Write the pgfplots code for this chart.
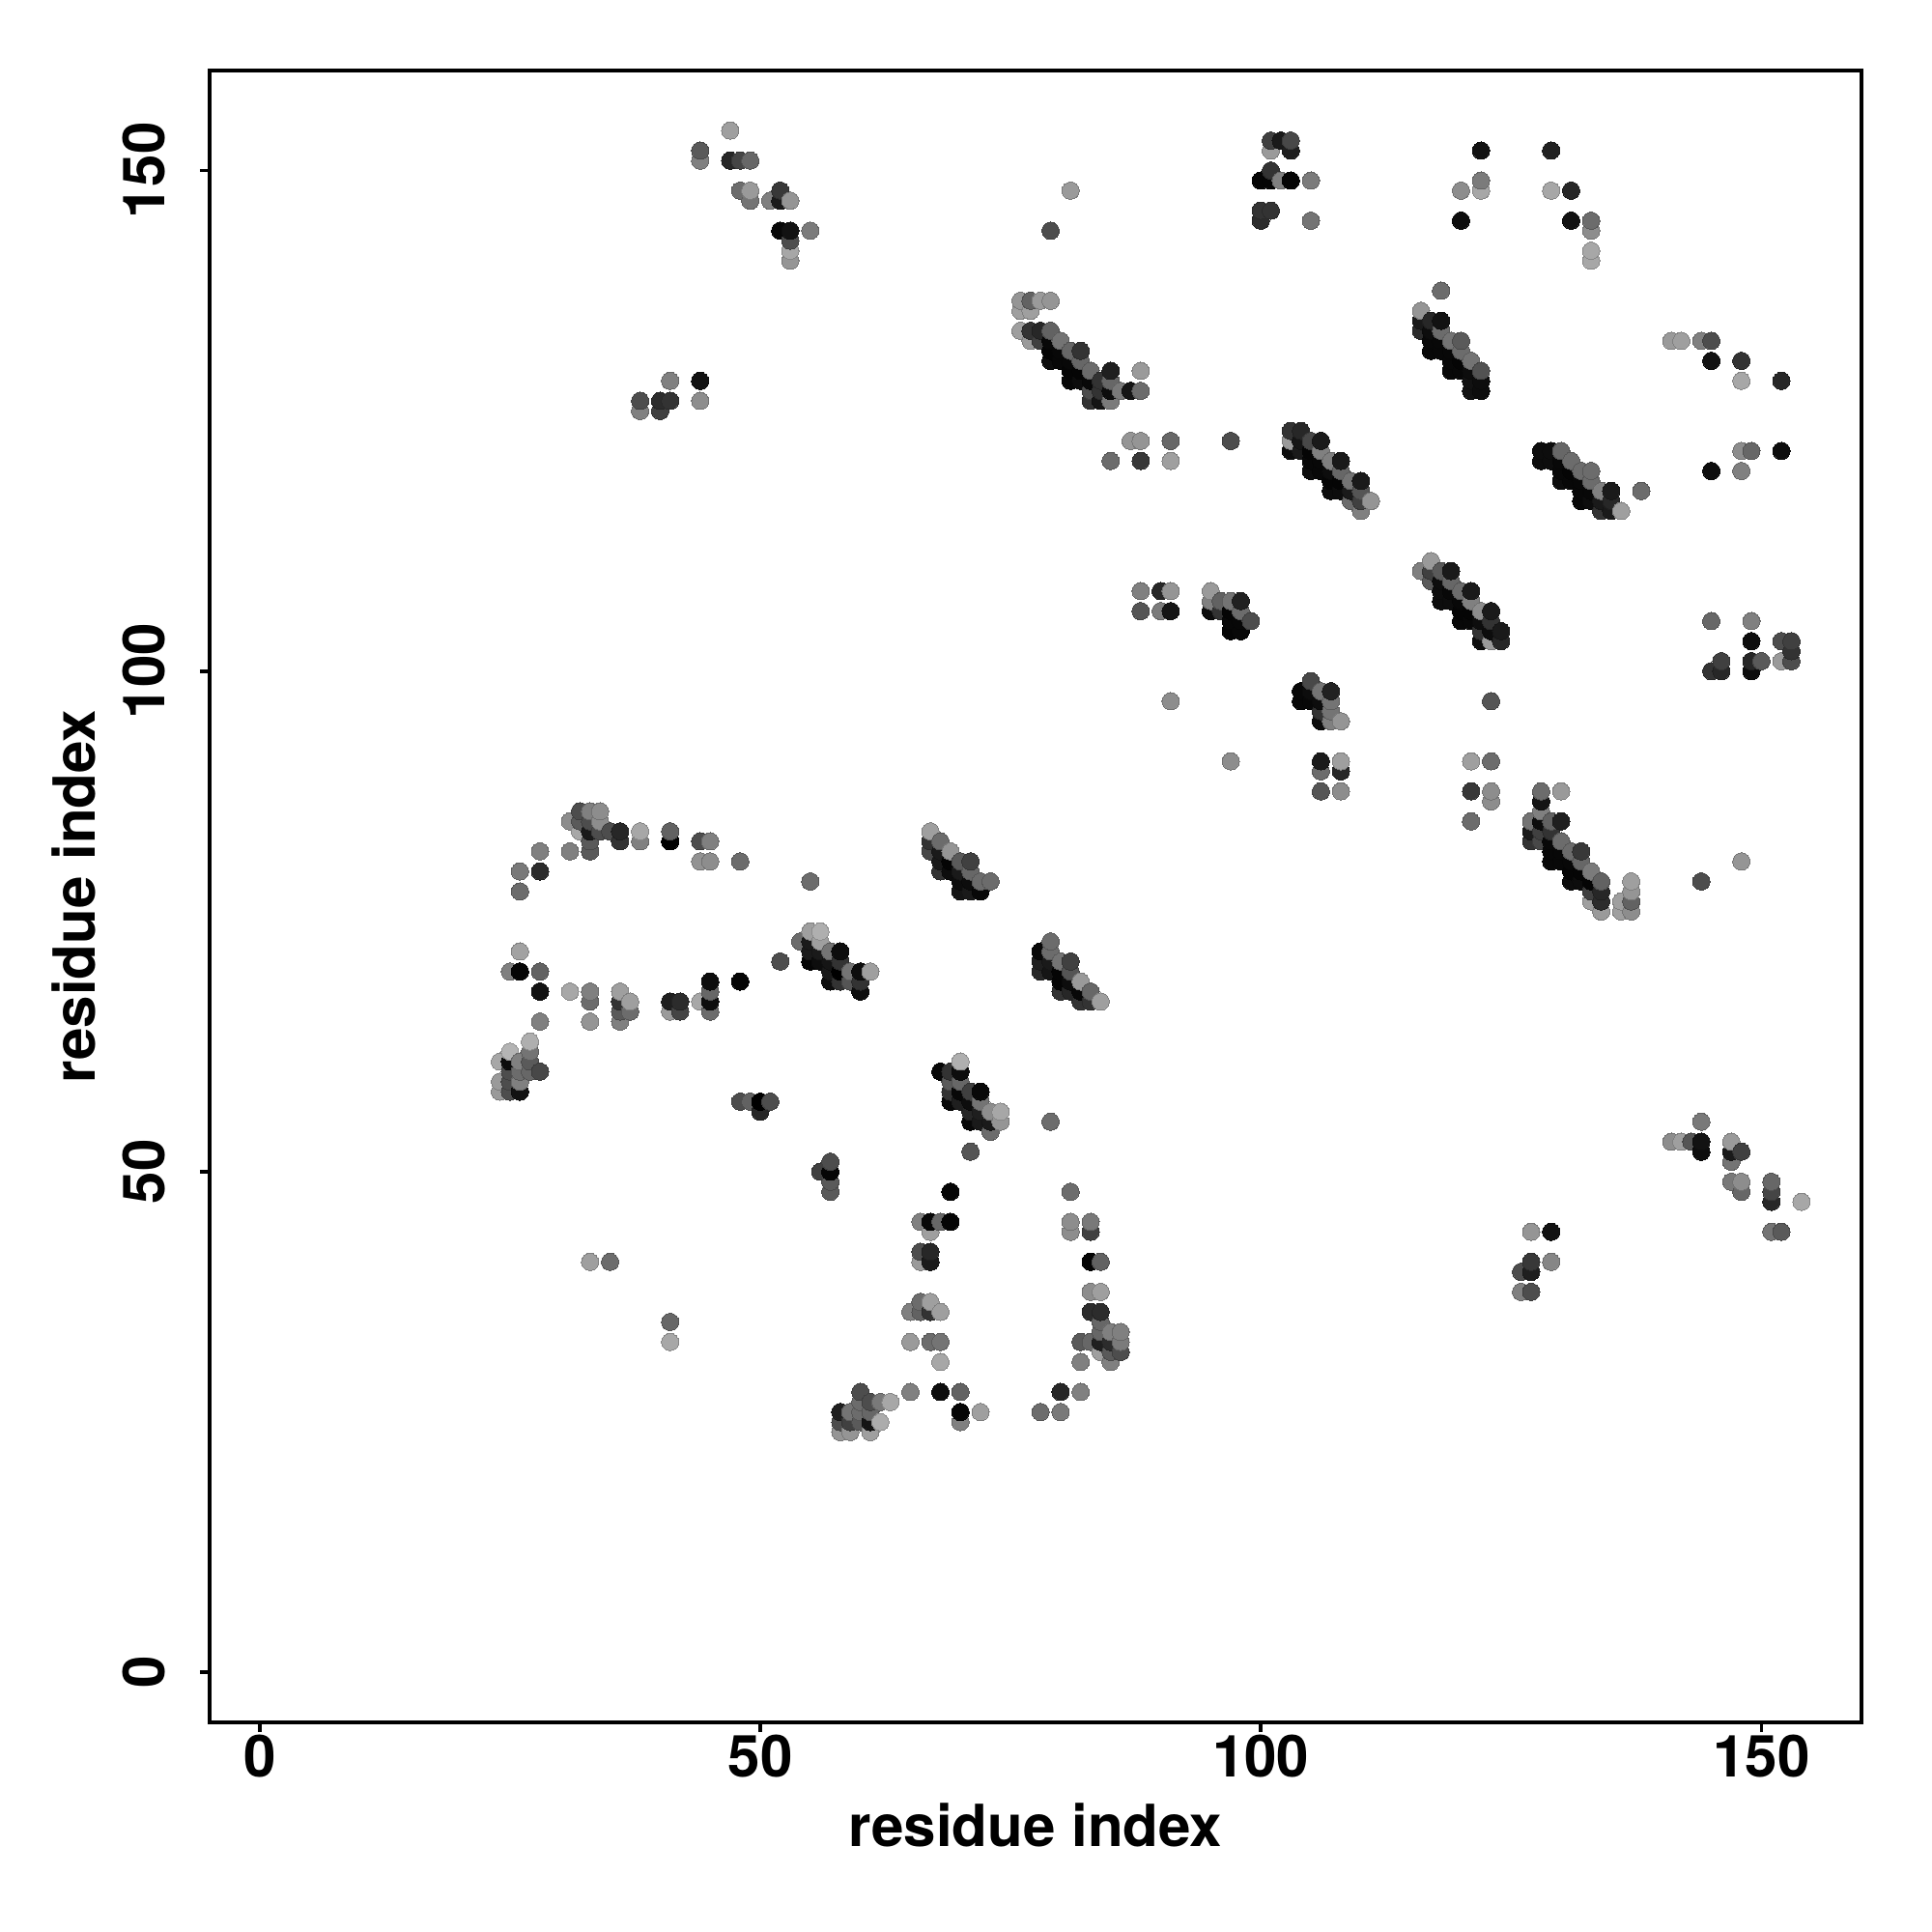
\documentclass[border=0pt]{standalone}
\usepackage{fontspec}
\setmainfont{TeX Gyre Heros}
\usepackage{pgfplots}
\pgfplotsset{compat=1.18}
\begin{document}
\begin{tikzpicture}
\useasboundingbox (0,0) rectangle (20cm,20cm);
\begin{axis}[
  at={(2.17cm,2.17cm)}, anchor=south west,
  width=17.10cm, height=17.10cm, scale only axis,
  xmin=-5, xmax=160, ymin=-5, ymax=160,
  xtick={0,50,100,150}, ytick={0,50,100,150},
  axis line style={line width=1.05pt},
  tick style={line width=1.05pt, black},
  major tick length=0.1cm,
  tick align=outside, xtick pos=lower, ytick pos=left,
  /pgf/number format/assume math mode=true,
  /pgf/number format/1000 sep={},
  ticklabel style={font=\fontsize{17.1}{20}\selectfont\bfseries},
  xticklabel style={anchor=base, yshift=-0.46cm},
  yticklabel style={xshift=-0.36cm, rotate=90, anchor=base},
  xlabel={residue index}, ylabel={residue index},
  label style={font=\fontsize{17.1}{20}\selectfont\bfseries},
  xlabel style={at={(axis description cs:0.5,0)}, anchor=base, yshift=-1.28cm},
  ylabel style={at={(axis description cs:0,0.5)}, anchor=base, yshift=1.18cm},
  colormap={bw}{gray(0cm)=(0); gray(1cm)=(1)},
  point meta min=0, point meta max=1,
  clip=false,
]
\addplot[scatter, only marks, mark=*, mark size=2.56pt, scatter src=explicit,
  mark options={line width=0pt}] coordinates {
(24,58)[.6](24,59)[.6](24,61)[.65]
(25,58)[.3](25,59)[.3](25,60)[.3](25,61)[.05](25,62)[.7](25,70)[.5]
(26,58)[.07](26,59)[.5](26,60)[.42](26,61)[.5](26,70)[.02](26,72)[.63](26,78)[.42](26,80)[.47]
(27,60)[.4](27,61)[.35](27,62)[.45](27,63)[.68]
(28,60)[.28](28,65)[.5](28,68)[.07](28,70)[.38](28,80)[.17](28,82)[.5]
(31,68)[.65](31,82)[.5](31,85)[.55]
(32,84)[.65](32,85)[.35](32,86)[.3]
(33,41)[.62](33,65)[.58](33,67)[.42](33,68)[.5](33,82)[.35](33,83)[.35](33,84)[.1](33,85)[.3](33,86)[.5]
(34,84)[.3](34,85)[.55](34,86)[.55]
(35,41)[.42](35,84)[.3]
(36,65)[.5](36,66)[.35](36,67)[.2](36,68)[.62](36,83)[.2](36,84)[.15]
(37,66)[.42](37,67)[.62]
(38,83)[.5](38,84)[.65](38,126)[.5](38,127)[.3]
(40,126)[.25](40,127)[.17]
(41,33)[.65](41,35)[.4](41,66)[.6](41,67)[.12](41,83)[0](41,84)[.38](41,127)[.2](41,129)[.5]
(42,66)[.27](42,67)[.17]
(44,67)[.65](44,81)[.57](44,83)[.3](44,127)[.55](44,129)[.07](44,151)[.5](44,152)[.35]
(45,66)[.42](45,67)[.05](45,68)[.4](45,69)[.05](45,81)[.55](45,83)[.5]
(47,151)[.15](47,154)[.62]
(48,57)[.3](48,69)[.02](48,81)[.42](48,148)[.42](48,151)[.27]
(49,57)[.38](49,147)[.45](49,148)[.6](49,151)[.4]
(50,56)[.15](50,57)[0]
(51,57)[.3](51,147)[.5]
(52,71)[.3](52,144)[.03](52,147)[.1](52,148)[.22]
(53,141)[.58](53,142)[.65](53,143)[.3](53,144)[.07](53,147)[.58]
(54,73)[.42]
(55,71)[.02](55,72)[.1](55,73)[.1](55,74)[.62](55,79)[.42](55,144)[.48]
(56,50)[.25](56,71)[.05](56,72)[.1](56,73)[.62](56,74)[.68]
(57,48)[.35](57,49)[.35](57,50)[.02](57,51)[.3](57,69)[.05](57,70)[.1](57,71)[.08](57,72)[.45]
(58,24)[.58](58,25)[.3](58,26)[.12](58,69)[.2](58,70)[0](58,71)[.2](58,72)[.05]
(59,24)[.58](59,25)[.25](59,26)[.45](59,69)[.33](59,70)[.45]
(60,25)[.35](60,26)[.42](60,27)[.42](60,28)[.3](60,68)[.05](60,69)[.2](60,70)[.05]
(61,24)[.62](61,25)[.08](61,26)[.4](61,27)[.3](61,70)[.62]
(62,25)[.67](62,27)[.47]
(63,27)[.65]
(65,28)[.5](65,33)[.6](65,36)[.5]
(66,36)[.38](66,37)[.42](66,41)[.6](66,42)[.3](66,45)[.5]
(67,33)[.42](67,36)[.2](67,37)[.62](67,41)[.1](67,42)[.15](67,44)[.62](67,45)[.03](67,82)[.28](67,83)[.2](67,84)[.62]
(68,28)[.05](68,31)[.65](68,33)[.45](68,36)[.62](68,45)[.4](68,60)[.03](68,80)[.2](68,81)[.1](68,82)[.1](68,83)[.42]
(69,45)[.02](69,48)[.02](69,57)[.03](69,58)[.2](69,59)[.35](69,60)[.2](69,80)[.05](69,81)[.02](69,82)[.58]
(70,25)[.5](70,26)[.02](70,28)[.38](70,57)[.12](70,58)[.03](70,59)[.4](70,60)[.05](70,61)[.68](70,78)[.08](70,79)[.05](70,80)[.1](70,81)[.35]
(71,52)[.33](71,55)[.03](71,56)[.15](71,57)[.05](71,58)[.25](71,78)[.1](71,79)[.05](71,80)[.4](71,81)[.25]
(72,26)[.62](72,55)[.1](72,56)[.12](72,57)[.45](72,58)[.03](72,78)[.03](72,79)[.42]
(73,54)[.42](73,55)[.1](73,56)[.55](73,79)[.42]
(74,55)[.58](74,56)[.65]
(76,134)[.62](76,136)[.62](76,137)[.58]
(77,133)[.6](77,134)[.2](77,136)[.62](77,137)[.38]
(78,26)[.42](78,70)[.15](78,71)[.12](78,72)[.03](78,133)[.25](78,134)[.15](78,137)[.6]
(79,55)[.42](79,70)[.08](79,71)[.1](79,72)[.42](79,73)[.42](79,131)[.05](79,132)[.02](79,133)[.03](79,134)[.38](79,137)[.58](79,144)[.3]
(80,26)[.47](80,28)[.15](80,68)[.2](80,69)[.02](80,70)[.02](80,71)[.45](80,131)[.03](80,132)[.03](80,133)[.45]
(81,44)[.55](81,45)[.55](81,48)[.42](81,68)[.15](81,69)[.05](81,70)[.33](81,71)[.25](81,129)[.03](81,130)[.02](81,131)[.03](81,132)[.4](81,148)[.6]
(82,28)[.5](82,31)[.5](82,33)[.35](82,67)[.2](82,68)[.03](82,69)[.6](82,129)[.05](82,130)[.02](82,131)[.4](82,132)[.2]
(83,33)[.4](83,36)[.17](83,38)[.55](83,41)[.02](83,44)[.25](83,45)[.47](83,67)[.2](83,68)[.4](83,127)[.2](83,128)[.3](83,129)[.03](83,130)[.42]
(84,32)[.62](84,33)[.12](84,34)[.4](84,35)[.4](84,36)[.17](84,38)[.62](84,41)[.38](84,67)[.62](84,127)[.08](84,128)[.2](84,129)[.2]
(85,31)[.5](85,32)[.35](85,33)[.17](85,34)[.5](85,121)[.42](85,127)[.48](85,128)[.05](85,129)[.4](85,130)[.12]
(86,32)[.3](86,33)[.48](86,34)[.5](86,128)[.47]
(87,123)[.58](87,128)[.08]
(88,106)[.33](88,108)[.5](88,121)[.22](88,123)[.58](88,128)[.42](88,130)[.6]
(90,106)[.48](90,108)[.15]
(91,97)[.55](91,106)[.08](91,108)[.58](91,121)[.62](91,123)[.4]
(95,106)[.05](95,107)[.5](95,108)[.6]
(96,106)[.2](96,107)[.38]
(97,91)[.55](97,104)[.02](97,105)[.03](97,106)[.02](97,107)[.45](97,123)[.3]
(98,104)[.03](98,105)[.03](98,106)[.42](98,107)[.13]
(99,105)[.3]
(100,145)[.17](100,146)[.2](100,149)[.02]
(101,146)[.2](101,149)[.02](101,150)[.2](101,152)[.6](101,153)[.25]
(102,149)[.5](102,153)[.1]
(103,122)[.05](103,123)[.6](103,124)[.2](103,149)[.02](103,152)[.12](103,153)[.28]
(104,97)[.03](104,98)[.03](104,122)[.1](104,123)[.08](104,124)[.15]
(105,97)[.03](105,98)[.05](105,99)[.28](105,120)[.05](105,121)[.03](105,122)[.02](105,123)[.28](105,145)[.45](105,149)[.48]
(106,88)[.33](106,90)[.42](106,91)[.1](106,95)[.05](106,96)[.2](106,97)[.05](106,98)[.45](106,120)[.03](106,121)[.03](106,122)[.5](106,123)[.1]
(107,95)[.5](107,96)[.45](107,97)[.45](107,98)[.13](107,118)[.05](107,119)[.02](107,120)[.05](107,121)[.5]
(108,88)[.55](108,90)[.15](108,91)[.62](108,95)[.58](108,118)[.05](108,119)[.02](108,120)[.4](108,121)[.1]
(109,117)[.42](109,118)[.1](109,119)[.45]
(110,116)[.5](110,117)[.25](110,118)[.33](110,119)[.1]
(111,117)[.58]
(116,110)[.5](116,134)[.17](116,135)[.1](116,136)[.58]
(117,109)[.35](117,110)[.25](117,111)[.6](117,132)[.03](117,133)[.03](117,134)[.05](117,135)[.15]
(118,107)[.05](118,108)[.05](118,109)[.05](118,110)[.35](118,132)[.03](118,133)[.03](118,134)[.42](118,135)[.07](118,138)[.42]
(119,107)[.05](119,108)[.03](119,109)[.4](119,110)[.1](119,130)[.03](119,131)[.03](119,132)[.03](119,133)[.45]
(120,105)[.03](120,106)[.02](120,107)[.03](120,108)[.42](120,130)[.03](120,131)[.02](120,132)[.42](120,133)[.35](120,145)[.05](120,148)[.55]
(121,85)[.42](121,88)[.22](121,91)[.62](121,105)[.03](121,106)[.02](121,107)[.5](121,108)[.1](121,128)[.07](121,129)[.07](121,130)[.05](121,131)[.45]
(122,103)[.05](122,104)[.2](122,105)[.05](122,106)[.55](122,128)[.05](122,129)[.05](122,130)[.32](122,148)[.65](122,149)[.48](122,152)[.07]
(123,87)[.55](123,88)[.55](123,91)[.42](123,97)[.33](123,103)[.6](123,104)[.05](123,105)[.2](123,106)[.1]
(124,103)[.15](124,104)[.1]
(126,38)[.5](126,40)[.3]
(127,38)[.3](127,40)[.12](127,41)[.22](127,44)[.58](127,83)[.2](127,84)[.1](127,85)[.45]
(128,83)[.28](128,84)[.25](128,85)[.05](128,86)[.5](128,87)[.08](128,88)[.42](128,121)[.05](128,122)[.05]
(129,41)[.52](129,44)[.07](129,81)[.03](129,82)[.03](129,83)[.03](129,84)[.2](129,85)[.38](129,121)[.05](129,122)[.05](129,148)[.65](129,152)[.13]
(130,81)[.03](130,82)[.03](130,83)[.42](130,85)[.12](130,88)[.6](130,119)[.05](130,120)[.03](130,121)[.03](130,122)[.4]
(131,79)[.05](131,80)[.02](131,81)[.03](131,82)[.42](131,119)[.03](131,120)[.02](131,121)[.42](131,145)[.07](131,148)[.15]
(132,79)[.05](132,80)[.02](132,81)[.4](132,82)[.22](132,117)[.03](132,118)[.03](132,119)[.03](132,120)[.42]
(133,77)[.62](133,78)[.25](133,79)[.02](133,80)[.48](133,117)[.05](133,118)[.03](133,119)[.42](133,120)[.42](133,141)[.65](133,142)[.65](133,144)[.55](133,145)[.42]
(134,76)[.6](134,77)[.17](134,78)[.15](134,79)[.38](134,116)[.2](134,117)[.1](134,118)[.5]
(135,116)[.1](135,117)[.15](135,118)[.1]
(136,76)[.62](136,77)[.62](136,116)[.62]
(137,76)[.55](137,77)[.38](137,78)[.58](137,79)[.62]
(138,118)[.42]
(141,53)[.55](141,133)[.6]
(142,53)[.62](142,133)[.62]
(143,53)[.33]
(144,52)[.05](144,53)[.07](144,55)[.47](144,79)[.3](144,133)[.5]
(145,100)[.2](145,105)[.4](145,120)[.05](145,131)[.07](145,133)[.3]
(146,100)[.15](146,101)[.25]
(147,49)[.47](147,51)[.45](147,52)[.1](147,53)[.6]
(148,48)[.4](148,49)[.55](148,52)[.25](148,81)[.58](148,120)[.5](148,122)[.55](148,129)[.65](148,131)[.2]
(149,100)[.05](149,101)[.15](149,103)[.05](149,105)[.5](149,122)[.4]
(150,101)[.35]
(151,44)[.45](151,47)[.15](151,48)[.27](151,49)[.4]
(152,44)[.35](152,101)[.6](152,103)[.3](152,122)[.05](152,129)[.15]
(153,101)[.3](153,102)[.2](153,103)[.25]
(154,47)[.65]
};
\end{axis}
\end{tikzpicture}
\end{document}
